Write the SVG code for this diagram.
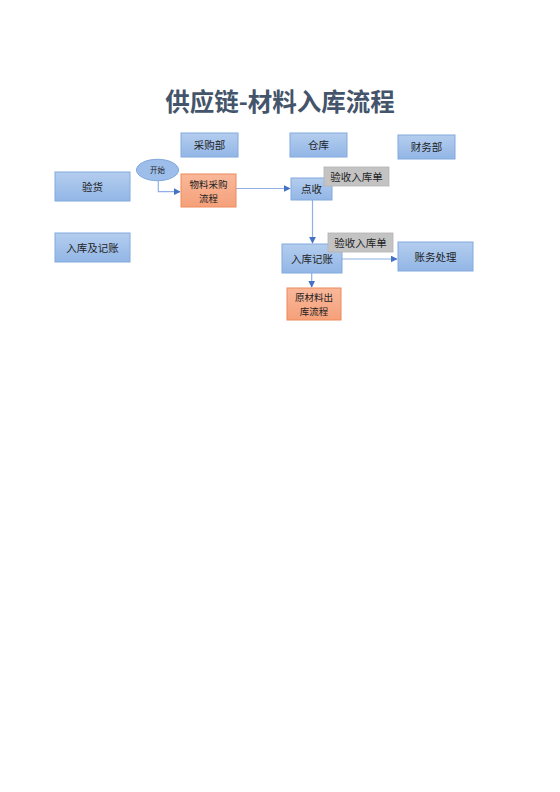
<svg xmlns="http://www.w3.org/2000/svg" width="560" height="792" viewBox="0 0 560 792">
<defs>
<linearGradient id="gb" x1="0" y1="0" x2="0" y2="1"><stop offset="0" stop-color="#B4CDEE"/><stop offset="1" stop-color="#92B6E6"/></linearGradient>
<linearGradient id="go" x1="0" y1="0" x2="0" y2="1"><stop offset="0" stop-color="#F9B89A"/><stop offset="1" stop-color="#F5A07A"/></linearGradient>
<marker id="ah" viewBox="0 0 10 10" refX="9" refY="5" markerWidth="7" markerHeight="7" markerUnits="userSpaceOnUse" orient="auto"><path d="M0,0 L10,5 L0,10 z" fill="#4472C4"/></marker>
<style>
.b{fill:url(#gb);stroke:#82A9DE;stroke-width:1}
.o{fill:url(#go);stroke:#EE8A5A;stroke-width:1}
.g{fill:#C3C3C3;stroke:#B3B3B3;stroke-width:0.8}
.t{font-family:"Noto Sans CJK SC","Noto Sans",sans-serif;font-size:10.5px;fill:#222;text-anchor:middle}
.t2{font-size:9.5px}
.c{fill:none;stroke:#8EB0E6;stroke-width:1.2}
</style>
</defs>
<rect width="560" height="792" fill="#fff"/>
<text x="280" y="111" style="font-family:'Noto Sans CJK SC','Noto Sans',sans-serif;font-size:24.5px;font-weight:bold;fill:#44546A;text-anchor:middle">供应链-材料入库流程</text>
<g id="connectors">
<path class="c" d="M158.3,180.7 V191.7 H180" marker-end="url(#ah)"/>
<path class="c" d="M236,188.5 H290" marker-end="url(#ah)"/>
<path class="c" d="M312.5,200 V243" marker-end="url(#ah)"/>
<path class="c" d="M342,259 H397" marker-end="url(#ah)"/>
<path class="c" d="M311.7,273 V287" marker-end="url(#ah)"/>
</g>
<g id="n-cgb"><rect class="b" x="181" y="133" width="57" height="24"/><text class="t" x="209.5" y="149">采购部</text></g>
<g id="n-ck"><rect class="b" x="290" y="133" width="57" height="24"/><text class="t" x="318.5" y="149">仓库</text></g>
<g id="n-cwb"><rect class="b" x="398" y="135" width="57" height="24"/><text class="t" x="426.5" y="151">财务部</text></g>
<g id="n-yh"><rect class="b" x="55" y="172" width="75" height="29"/><text class="t" x="92.5" y="190.5">验货</text></g>
<g id="n-rkjz"><rect class="b" x="55" y="233" width="75" height="29"/><text class="t" x="92.5" y="251.5">入库及记账</text></g>
<g id="n-start"><ellipse cx="157.5" cy="170" rx="21" ry="10.7" fill="#9DBEEA" stroke="#7FA7DD" stroke-width="1"/><text class="t" x="157.5" y="173" style="font-size:7.5px">开始</text></g>
<g id="n-wlcg"><rect class="o" x="181" y="174" width="55" height="33"/><text class="t t2" x="208.5" y="187.5">物料采购<tspan x="208.5" dy="14">流程</tspan></text></g>
<g id="n-ds"><rect class="b" x="291" y="178" width="41" height="22"/><text class="t" x="311.5" y="193">点收</text></g>
<g id="n-ysd1"><rect class="g" x="324" y="167" width="65" height="19"/><text class="t" x="356.5" y="180.5">验收入库单</text></g>
<g id="n-rkjz2"><rect class="b" x="282" y="244" width="60" height="29"/><text class="t" x="312" y="262.5">入库记账</text></g>
<g id="n-ysd2"><rect class="g" x="328" y="233" width="65" height="19"/><text class="t" x="360.5" y="246.5">验收入库单</text></g>
<g id="n-zwcl"><rect class="b" x="398" y="242" width="75" height="29"/><text class="t" x="435.5" y="260.5">账务处理</text></g>
<g id="n-ycl"><rect class="o" x="287" y="288" width="54" height="32"/><text class="t t2" x="314" y="300.5">原材料出<tspan x="314" dy="14">库流程</tspan></text></g>
</svg>
